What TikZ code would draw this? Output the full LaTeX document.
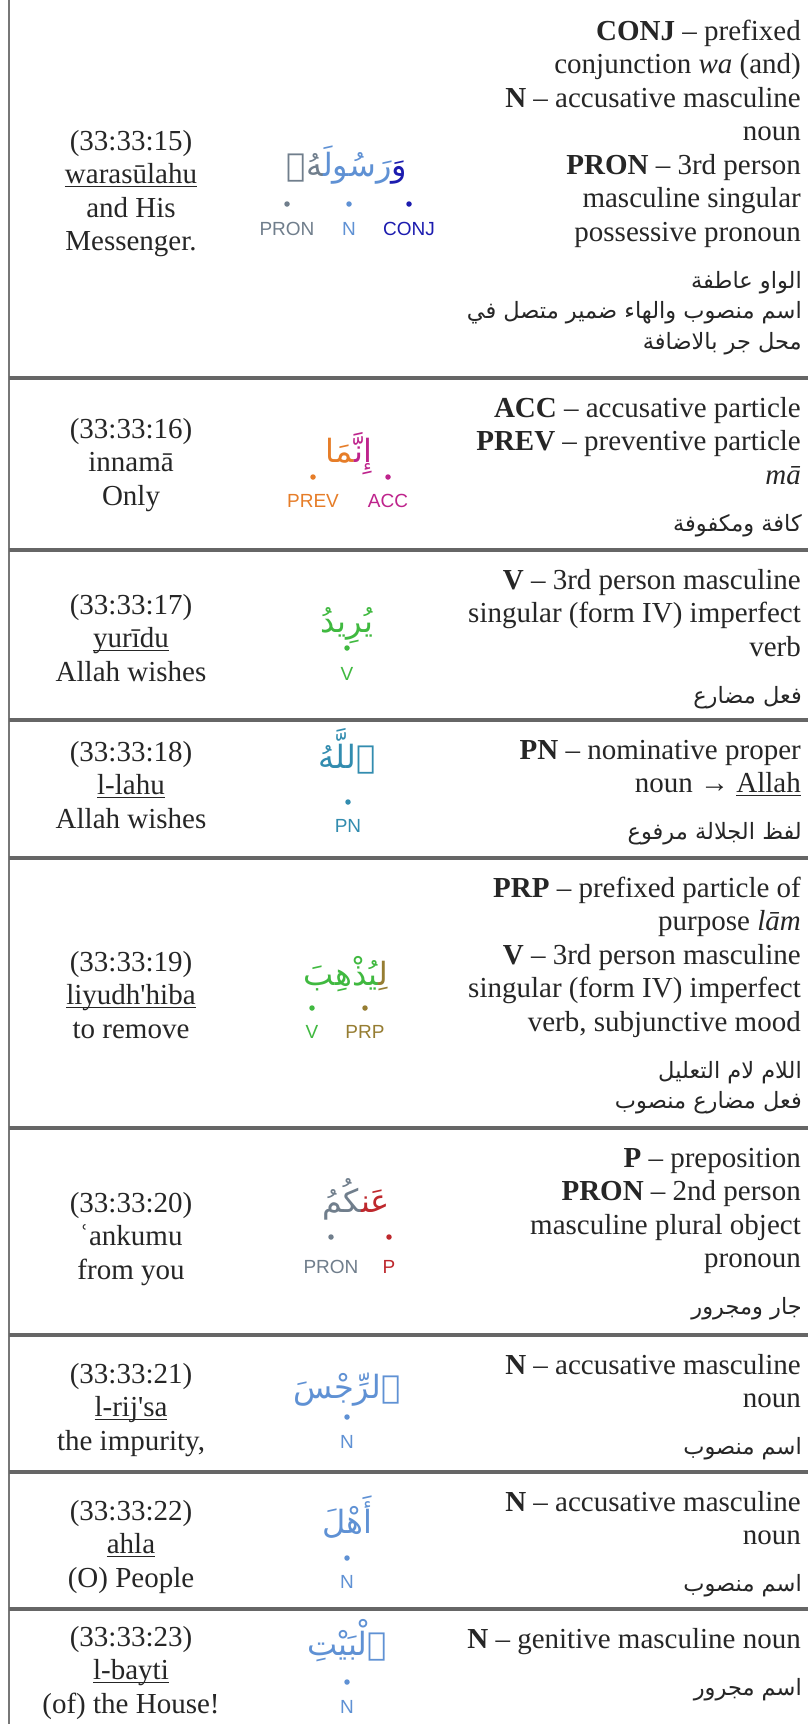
\documentclass[tikz,border=0pt]{standalone}
\usepackage{fontspec}
\setmainfont{Liberation Serif}
\newfontfamily\labfont{Liberation Sans}
\newfontfamily\arabicfont[Script=Arabic]{DejaVu Sans}
\TeXXeTstate=1
\definecolor{txt}{HTML}{262626}
\definecolor{sepgray}{HTML}{666666}
\definecolor{bordergray}{HTML}{777777}
\definecolor{conjc}{RGB}{28,28,175}
\definecolor{nc}{RGB}{95,145,212}
\definecolor{pronc}{RGB}{112,126,140}
\definecolor{accc}{RGB}{190,35,140}
\definecolor{prevc}{RGB}{230,125,40}
\definecolor{vc}{RGB}{64,185,64}
\definecolor{pnc}{RGB}{50,140,175}
\definecolor{prpc}{RGB}{150,125,50}
\definecolor{pc}{RGB}{190,40,45}
\newcommand\ulin[1]{\setbox0\hbox{#1}\rlap{\rule[-3.5pt]{\wd0}{1.3pt}}\box0}
\newcommand\zj{^^^^200d}
\newcommand\rlines[1]{\begin{tabular}[t]{@{}r@{}}#1\end{tabular}}
\newcommand\clines[1]{\begin{tabular}[t]{@{}c@{}}#1\end{tabular}}
\tikzset{
  en/.style={font=\fontsize{29}{33.5}\selectfont, text=txt, inner sep=0pt, anchor=base east},
  lc/.style={font=\fontsize{29}{33.5}\selectfont, text=txt, inner sep=0pt, anchor=base},
  ar/.style={font=\arabicfont\fontsize{22.5}{30.5}\selectfont, text=txt, inner sep=0pt, anchor=base east},
  word/.style={font=\arabicfont\fontsize{32}{34}\selectfont, inner sep=0pt, anchor=base},
  lab/.style={font=\labfont\fontsize{19}{20}\selectfont, inner sep=0pt, anchor=base},
  dot/.style={circle, fill=#1, inner sep=0pt, minimum size=5.5pt},
  rowsep/.style={line width=3.5pt, draw=sepgray},
}
\begin{document}
\begin{tikzpicture}[x=1pt,y=-1pt]
\useasboundingbox[fill=white] (0,0) rectangle (808,1724);
% frame
\draw[line width=1.4pt, bordergray] (9,0) -- (9,1724);
\foreach \s in {378,550,720,858,1128,1335,1472,1609}
  \draw[rowsep] (9,\s) -- (808,\s);

% ---------- Row 1 ----------
\node[lc] (l1) at (131,150) {\clines{(33:33:15)\\\ulin{warasūlahu}\\and His\\Messenger.}};
\node[word] (w1) at (347,176) {{\color{pronc}\zj هُۥ}{\color{nc}رَسُولَ\zj}{\color{conjc}وَ}};
\node[dot=pronc] (d1a) at (287,204) {};
\node[dot=nc] (d1b) at (349,204) {};
\node[dot=conjc] (d1c) at (409,204) {};
\node[lab, text=pronc] (t1a) at (287,235) {PRON};
\node[lab, text=nc] (t1b) at (349,235) {N};
\node[lab, text=conjc] (t1c) at (409,235) {CONJ};
\node[en] (e1) at (801,40) {\rlines{\textbf{CONJ} – prefixed\\conjunction \textit{wa} (and)\\\textbf{N} – accusative masculine\\noun\\\textbf{PRON} – 3rd person\\masculine singular\\possessive pronoun}};
\node[ar] (a1) at (802,288) {\rlines{\beginR الواو عاطفة\endR\\\beginR اسم منصوب والهاء ضمير متصل في\endR\\\beginR محل جر بالاضافة\endR}};

% ---------- Row 2 ----------
\node[lc] (l2) at (131,438) {\clines{(33:33:16)\\innamā\\Only}};
\node[word] (w2) at (349,462) {{\color{prevc}\zj مَا}{\color{accc}إِنَّ\zj}};
\node[dot=prevc] (d2a) at (313,477) {};
\node[dot=accc] (d2b) at (388,477) {};
\node[lab, text=prevc] (t2a) at (313,507) {PREV};
\node[lab, text=accc] (t2b) at (388,507) {ACC};
\node[en] (e2) at (801,417) {\rlines{\textbf{ACC} – accusative particle\\\textbf{PREV} – preventive particle\\\textit{mā}}};
\node[ar] (a2) at (802,531) {\beginR كافة ومكفوفة\endR};

% ---------- Row 3 ----------
\node[lc] (l3) at (131,614) {\clines{(33:33:17)\\\ulin{yurīdu}\\Allah wishes}};
\node[word, text=vc] (w3) at (347,632) {يُرِيدُ};
\node[dot=vc] (d3) at (347,648) {};
\node[lab, text=vc] (t3) at (347,680) {V};
\node[en] (e3) at (801,589) {\rlines{\textbf{V} – 3rd person masculine\\singular (form IV) imperfect\\verb}};
\node[ar] (a3) at (802,703) {\beginR فعل مضارع\endR};

% ---------- Row 4 ----------
\node[lc] (l4) at (131,761) {\clines{(33:33:18)\\\ulin{l-lahu}\\Allah wishes}};
\node[word, text=pnc] (w4) at (347,768) {ٱللَّهُ};
\node[dot=pnc] (d4) at (348,802) {};
\node[lab, text=pnc] (t4) at (348,832) {PN};
\node[en] (e4) at (801,759) {\rlines{\textbf{PN} – nominative proper\\noun → \ulin{Allah}}};
\node[ar] (a4) at (802,839.5) {\beginR لفظ الجلالة مرفوع\endR};

% ---------- Row 5 ----------
\node[lc] (l5) at (131,971) {\clines{(33:33:19)\\\ulin{liyudh\textquotesingle hiba}\\to remove}};
\node[word] (w5) at (346,985) {{\color{vc}\zj يُذْهِبَ}{\color{prpc}لِ\zj}};
\node[dot=vc] (d5a) at (312,1008) {};
\node[dot=prpc] (d5b) at (365,1008) {};
\node[lab, text=vc] (t5a) at (312,1038) {V};
\node[lab, text=prpc] (t5b) at (365,1038) {PRP};
\node[en] (e5) at (801,897) {\rlines{\textbf{PRP} – prefixed particle of\\purpose \textit{lām}\\\textbf{V} – 3rd person masculine\\singular (form IV) imperfect\\verb, subjunctive mood}};
\node[ar] (a5) at (802,1078) {\rlines{\beginR اللام لام التعليل\endR\\\beginR فعل مضارع منصوب\endR}};

% ---------- Row 6 ----------
\node[lc] (l6) at (131,1212) {\clines{(33:33:20)\\ʿankumu\\from you}};
\node[word] (w6) at (356,1212) {{\color{pronc}\zj كُمُ}{\color{pc}عَن\zj}};
\node[dot=pronc] (d6a) at (331,1237) {};
\node[dot=pc] (d6b) at (389,1237) {};
\node[lab, text=pronc] (t6a) at (331,1273) {PRON};
\node[lab, text=pc] (t6b) at (389,1273) {P};
\node[en] (e6) at (801,1167) {\rlines{\textbf{P} – preposition\\\textbf{PRON} – 2nd person\\masculine plural object\\pronoun}};
\node[ar] (a6) at (802,1314.5) {\beginR جار ومجرور\endR};

% ---------- Row 7 ----------
\node[lc] (l7) at (131,1383) {\clines{(33:33:21)\\\ulin{l-rij\textquotesingle sa}\\the impurity,}};
\node[word, text=nc] (w7) at (347,1398) {ٱلرِّجْسَ};
\node[dot=nc] (d7) at (347,1417) {};
\node[lab, text=nc] (t7) at (347,1448) {N};
\node[en] (e7) at (801,1374) {\rlines{\textbf{N} – accusative masculine\\noun}};
\node[ar] (a7) at (802,1454.5) {\beginR اسم منصوب\endR};

% ---------- Row 8 ----------
\node[lc] (l8) at (131,1520) {\clines{(33:33:22)\\\ulin{ahla}\\(O) People}};
\node[word, text=nc] (w8) at (347,1533) {أَهْلَ};
\node[dot=nc] (d8) at (347,1558) {};
\node[lab, text=nc] (t8) at (347,1588) {N};
\node[en] (e8) at (801,1511) {\rlines{\textbf{N} – accusative masculine\\noun}};
\node[ar] (a8) at (802,1591.5) {\beginR اسم منصوب\endR};

% ---------- Row 9 ----------
\node[lc] (l9) at (131,1646) {\clines{(33:33:23)\\\ulin{l-bayti}\\(of) the House!}};
\node[word, text=nc] (w9) at (347,1655) {ٱلْبَيْتِ};
\node[dot=nc] (d9) at (347,1682) {};
\node[lab, text=nc] (t9) at (347,1713) {N};
\node[en] (e9) at (801,1648) {\textbf{N} – genitive masculine noun};
\node[ar] (a9) at (802,1695) {\beginR اسم مجرور\endR};
\end{tikzpicture}
\end{document}
